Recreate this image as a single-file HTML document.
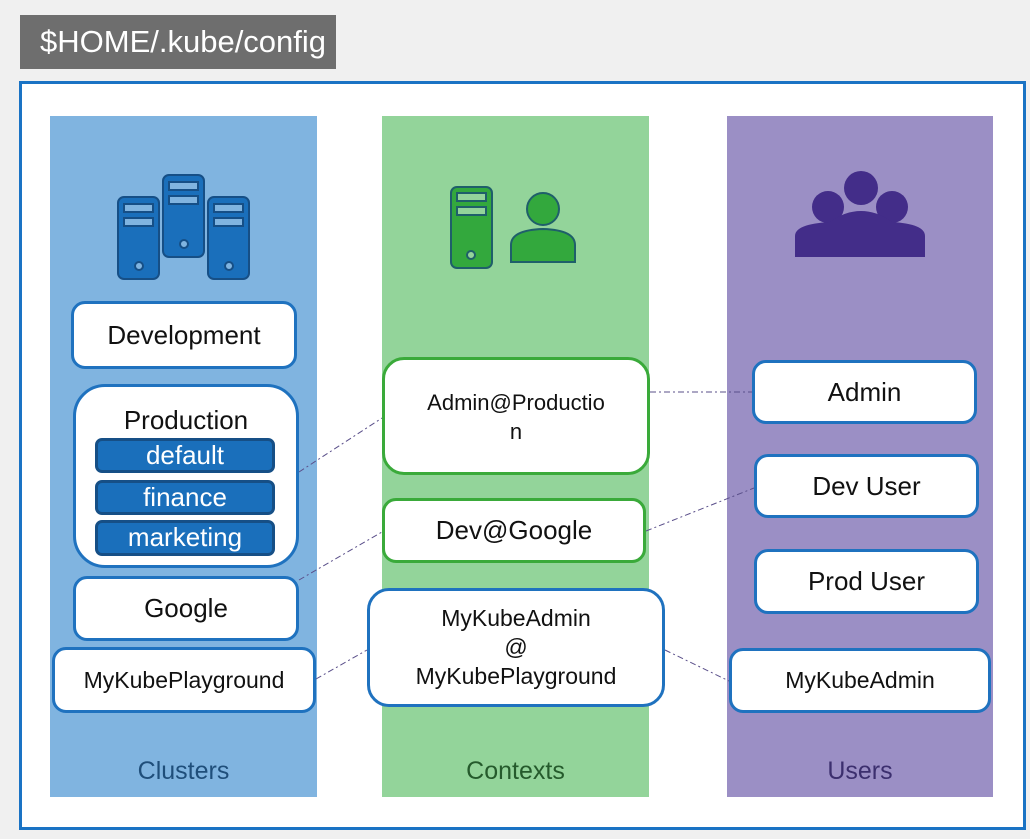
<!DOCTYPE html>
<html><head><meta charset="utf-8"><style>
body{margin:0;width:1030px;height:839px;background:#f0f0f0;position:relative;overflow:hidden;font-family:"Liberation Sans",sans-serif}
.a{position:absolute;box-sizing:border-box}
.box{position:absolute;box-sizing:border-box;background:#fff;border:3px solid #1f72bf;border-radius:14px;display:flex;align-items:center;justify-content:center;text-align:center;color:#111;font-size:26px;line-height:29px}
.g{border-color:#3aaa3a}
.ns{position:absolute;box-sizing:border-box;background:#1a6fbb;border:3px solid #164f86;border-radius:7px;color:#fff;font-size:26px;text-align:center;line-height:29px}
.lab{position:absolute;font-size:25px;text-align:center}
</style></head><body>
<div class="a" style="left:20px;top:15px;width:316px;height:54px;background:#6e6e6e;color:#fff;font-size:31px;line-height:54px;padding-left:20px">$HOME/.kube/config</div>
<div class="a" style="left:19px;top:81px;width:1007px;height:749px;background:#fff;border:3px solid #1a73c4"></div>
<div class="a" style="left:50px;top:116px;width:267px;height:681px;background:#80b4e0"></div>
<div class="a" style="left:382px;top:116px;width:267px;height:681px;background:#93d49a"></div>
<div class="a" style="left:727px;top:116px;width:266px;height:681px;background:#9b8fc5"></div>

<svg class="a" style="left:0;top:0" width="1030" height="839">
<g fill="#1a6fbb" stroke="#164f86" stroke-width="2">
<rect x="118" y="197" width="41" height="82" rx="6"/><rect x="163" y="175" width="41" height="82" rx="6"/><rect x="208" y="197" width="41" height="82" rx="6"/>
<rect x="124" y="204" width="29" height="8" fill="#80b4e0"/><rect x="124" y="218" width="29" height="8" fill="#80b4e0"/><circle cx="139" cy="266" r="4" fill="#80b4e0"/>
<rect x="169" y="182" width="29" height="8" fill="#80b4e0"/><rect x="169" y="196" width="29" height="8" fill="#80b4e0"/><circle cx="184" cy="244" r="4" fill="#80b4e0"/>
<rect x="214" y="204" width="29" height="8" fill="#80b4e0"/><rect x="214" y="218" width="29" height="8" fill="#80b4e0"/><circle cx="229" cy="266" r="4" fill="#80b4e0"/>
</g>
<g fill="#33a83d" stroke="#1f5f6a" stroke-width="2">
<rect x="451" y="187" width="41" height="81" rx="6"/>
<rect x="457" y="193" width="29" height="8" fill="#93d49a"/><rect x="457" y="207" width="29" height="8" fill="#93d49a"/><circle cx="471" cy="255" r="4" fill="#93d49a"/>
<circle cx="543" cy="209" r="16"/>
<path d="M511 262 V245 Q511 230 543 229 Q575 230 575 245 V262 Z"/>
</g>
<g fill="#432d89">
<circle cx="828" cy="207" r="16"/><circle cx="892" cy="207" r="16"/><circle cx="861" cy="188" r="17"/>
<path d="M795 257 V236 Q795 224 830 222 Q845 211 861 211 Q877 211 892 222 Q925 224 925 236 V257 Z"/>
</g>
<g stroke="#5a4f8a" stroke-width="1" stroke-dasharray="6,3,2,3" fill="none">
<line x1="299" y1="472" x2="382" y2="418"/>
<line x1="650" y1="392" x2="752" y2="392"/>
<line x1="299" y1="580" x2="382" y2="532"/>
<line x1="646" y1="531" x2="754" y2="488"/>
<line x1="316" y1="679" x2="367" y2="650"/>
<line x1="665" y1="650" x2="729" y2="681"/>
</g>
</svg>

<div class="box" style="left:71px;top:301px;width:226px;height:68px">Development</div>
<div class="box" style="left:73px;top:384px;width:226px;height:184px;border-radius:32px;align-items:flex-start;padding-top:19px">Production</div>
<div class="ns" style="left:95px;top:438px;width:180px;height:35px">default</div>
<div class="ns" style="left:95px;top:480px;width:180px;height:35px">finance</div>
<div class="ns" style="left:95px;top:520px;width:180px;height:36px">marketing</div>
<div class="box" style="left:73px;top:576px;width:226px;height:65px">Google</div>
<div class="box" style="left:52px;top:647px;width:264px;height:66px;font-size:23px">MyKubePlayground</div>

<div class="box g" style="left:382px;top:357px;width:268px;height:118px;border-radius:22px;align-items:flex-start;padding-top:28px;font-size:22px">Admin@Productio<br>n</div>
<div class="box g" style="left:382px;top:498px;width:264px;height:65px">Dev@Google</div>
<div class="box" style="left:367px;top:588px;width:298px;height:119px;border-radius:22px;font-size:23px;line-height:29px">MyKubeAdmin<br>@<br>MyKubePlayground</div>

<div class="box" style="left:752px;top:360px;width:225px;height:64px">Admin</div>
<div class="box" style="left:754px;top:454px;width:225px;height:64px">Dev User</div>
<div class="box" style="left:754px;top:549px;width:225px;height:65px">Prod User</div>
<div class="box" style="left:729px;top:648px;width:262px;height:65px;font-size:23px">MyKubeAdmin</div>

<div class="lab" style="left:50px;width:267px;top:757px;color:#1f4e7a">Clusters</div>
<div class="lab" style="left:382px;width:267px;top:757px;color:#255a2c">Contexts</div>
<div class="lab" style="left:727px;width:266px;top:757px;color:#3c2f6e">Users</div>
</body></html>
